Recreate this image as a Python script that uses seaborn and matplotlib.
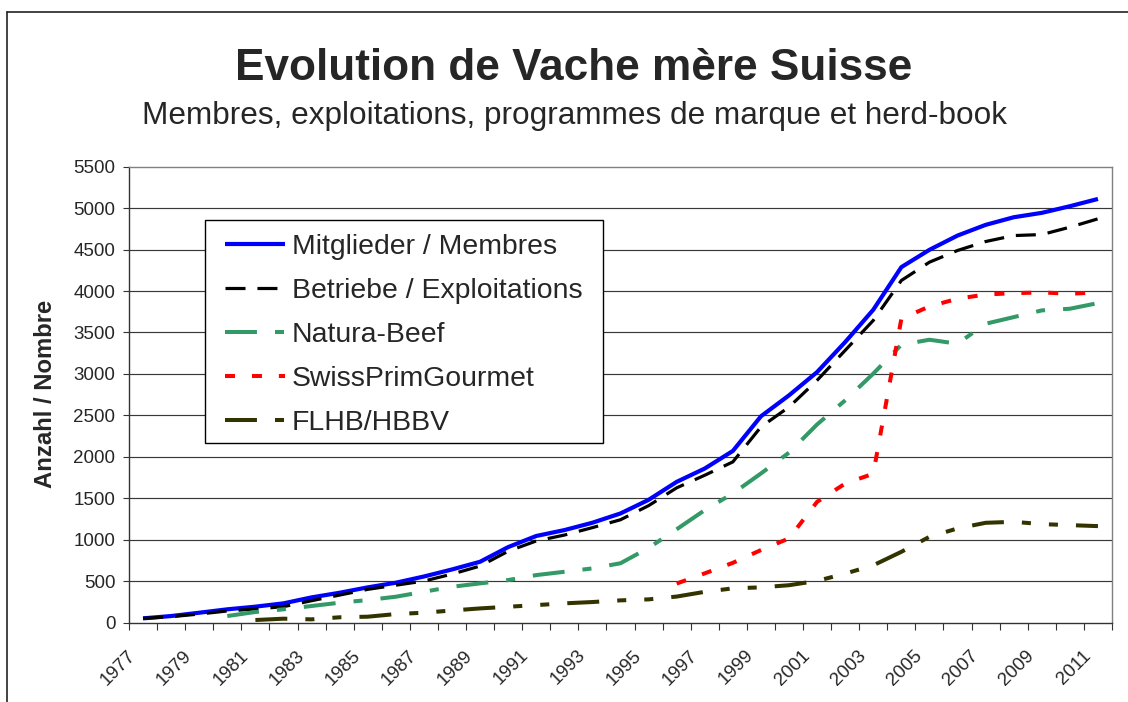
import numpy as np
import pandas as pd
import matplotlib
matplotlib.use('Agg')
import matplotlib.pyplot as plt
import seaborn as sns
from matplotlib.lines import Line2D
from matplotlib.patches import Rectangle
from matplotlib.transforms import ScaledTranslation

nan = np.nan
years = list(range(1977, 2012))
mitglieder = [50, 78, 118, 159, 191, 231, 303, 359, 424, 480,
              555, 640, 733, 910, 1044, 1115, 1204, 1316, 1480, 1697,
              1858, 2070, 2488, 2741, 3022, 3384, 3774, 4288, 4497, 4669,
              4798, 4890, 4943, 5023, 5111]
betriebe = [50, 70, 102, 139, 163, 191, 263, 331, 400, 450,
            500, 584, 681, 860, 984, 1055, 1145, 1240, 1410, 1625,
            1777, 1938, 2360, 2600, 2922, 3284, 3645, 4127, 4348, 4489,
            4597, 4669, 4681, 4770, 4871]
natura = [nan, nan, nan, 78, 127, 159, 199, 239, 271, 311,
          371, 431, 472, 512, 572, 612, 653, 715, 900, 1125,
          1356, 1557, 1798, 2050, 2390, 2681, 3003, 3352, 3412, 3364,
          3605, 3685, 3766, 3786, 3854]
swissprim = [nan, nan, nan, nan, nan, nan, nan, nan, nan, nan,
             nan, nan, nan, nan, nan, nan, nan, nan, nan, 470,
             593, 720, 874, 1015, 1456, 1677, 1795, 3665, 3814, 3907,
             3958, 3974, 3983, 3967, 3983]
flhb = [nan, nan, nan, nan, 30, 46, 38, 63, 70, 102,
        118, 145, 170, 190, 210, 231, 247, 267, 279, 313,
        370, 412, 424, 450, 502, 590, 690, 853, 1034, 1135,
        1203, 1215, 1187, 1175, 1163]

labels = ["Mitglieder / Membres", "Betriebe / Exploitations", "Natura-Beef",
          "SwissPrimGourmet", "FLHB/HBBV"]
colors = ["#0000FF", "#000000", "#339966", "#FF0000", "#333300"]
y_ticks = [0, 500, 1000, 1500, 2000, 2500, 3000, 3500, 4000, 4500, 5000, 5500]
x_label_years = years[::2]

sns.set_style("white")
plt.rcParams['font.family'] = ['Liberation Sans', 'DejaVu Sans']
plt.rcParams['lines.scale_dashes'] = False

W, H = 1128, 702
fig = plt.figure(figsize=(W / 100, H / 100), dpi=100)
ax = fig.add_axes([129 / W, 1 - 622.5 / H, (1112 - 129) / W, (622.5 - 166.7) / H])

series = [mitglieder, betriebe, natura, swissprim, flhb]
styles = ['-', (0, (14.4, 8.6)), (0, (23, 13, 6.5, 13)), (0, (7.2, 12.2)),
          (0, (23, 13, 6.5, 13, 6.5, 13))]
widths = [3.0, 2.3, 2.9, 2.9, 2.9]

for v in y_ticks[1:-1]:
    ax.axhline(v, color='#383838', lw=0.85, zorder=0.5)

handles = []
for vals, lab, col, ls, lw in zip(series, labels, colors, styles, widths):
    df = pd.DataFrame({'year': years, 'value': vals}).dropna()
    sns.lineplot(data=df, x='year', y='value', ax=ax, color=col, lw=lw,
                 estimator=None, legend=False)
    line = ax.lines[-1]
    line.set_linestyle(ls)
    line.set_solid_capstyle('butt')
    line.set_dash_capstyle('butt')
    handles.append(line)

ax.set_xlim(1976.5, 2011.5)
ax.set_ylim(0, 5500)
ax.set_xlabel('')
ax.set_ylabel('')
ax.set_yticks(y_ticks)
ax.set_yticklabels([str(v) for v in y_ticks])
ax.set_xticks(x_label_years)
ax.set_xticklabels([str(y) for y in x_label_years], rotation=45, ha='right',
                   va='top', rotation_mode='anchor')
ax.set_xticks([y - 0.5 for y in years] + [years[-1] + 0.5], minor=True)
ax.tick_params(axis='y', length=4, width=0.8, pad=5.8, labelsize=13.5,
               direction='out', color='#333333', left=True)
ax.tick_params(axis='x', which='major', length=0, pad=17.6, labelsize=13.5,
               bottom=True)
ax.tick_params(axis='x', which='minor', length=4.8, width=0.8,
               direction='out', color='#333333', bottom=True)
for lbl in ax.get_xticklabels():
    lbl.set_transform(lbl.get_transform() + ScaledTranslation(-0.16, 0, fig.dpi_scale_trans))

for name in ['top', 'right']:
    ax.spines[name].set_color('#808080')
    ax.spines[name].set_linewidth(1.0)
for name in ['left', 'bottom']:
    ax.spines[name].set_color('#333333')
    ax.spines[name].set_linewidth(1.0)

# legend box
ax.add_patch(Rectangle((205 / W, 1 - 443 / H), (603 - 205) / W, (443 - 220) / H,
                       transform=fig.transFigure, facecolor='white', edgecolor='black',
                       lw=1.0, zorder=4.9, clip_on=False))
leg = ax.legend(handles, labels, loc='upper left',
                bbox_to_anchor=(225 / W, 1 - 234 / H), bbox_transform=fig.transFigure,
                borderaxespad=0, fontsize=20.4, handlelength=2.11, handletextpad=0.25,
                labelspacing=0.634, borderpad=0, frameon=False)

fig.text(573.5 / W, 1 - 80 / H, 'Evolution de Vache mère Suisse', ha='center',
         va='baseline', fontsize=31.8, fontweight='bold')
fig.text(575 / W, 1 - 124 / H, 'Membres, exploitations, programmes de marque et herd-book',
         ha='center', va='baseline', fontsize=22.7)
fig.text(46 / W, 1 - 394 / H, 'Anzahl / Nombre', rotation=90, ha='center',
         va='center', fontsize=17.2, fontweight='bold')

fig.add_artist(Line2D([7 / W, 1], [1 - 12 / H, 1 - 12 / H], transform=fig.transFigure,
                      color='#222222', lw=1.2))
fig.add_artist(Line2D([7 / W, 7 / W], [0, 1 - 12 / H], transform=fig.transFigure,
                      color='#222222', lw=1.2))

fig.savefig('out.png', dpi=100)
